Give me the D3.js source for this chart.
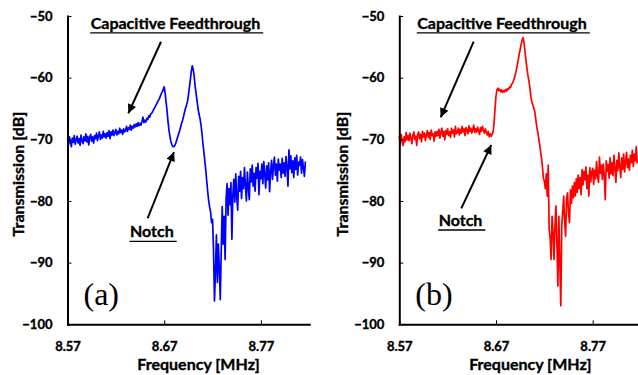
<!DOCTYPE html>
<html>
<head>
<meta charset="utf-8">
<script src="https://cdn.jsdelivr.net/npm/d3@7"></script>
<style>
  body { margin: 0; background: #fff; }
  svg text { font-family: Lato, "Open Sans", sans-serif; font-weight: bold; fill: #000; }
  svg text.heavy { stroke: #000; stroke-width: 0.35px; }
</style>
</head>
<body>
<div id="chart"></div>
<script>
const freqMHz = [
  8.570, 8.571, 8.572, 8.573, 8.574, 8.575, 8.576, 8.577, 8.578, 8.579,
  8.580, 8.581, 8.582, 8.583, 8.584, 8.585, 8.586, 8.587, 8.588, 8.589,
  8.590, 8.591, 8.592, 8.593, 8.594, 8.595, 8.596, 8.597, 8.598, 8.599,
  8.600, 8.601, 8.602, 8.603, 8.604, 8.605, 8.606, 8.607, 8.608, 8.609,
  8.610, 8.611, 8.612, 8.613, 8.614, 8.615, 8.616, 8.617, 8.618, 8.619,
  8.620, 8.621, 8.622, 8.623, 8.624, 8.625, 8.626, 8.627, 8.628, 8.629,
  8.630, 8.631, 8.632, 8.633, 8.634, 8.635, 8.636, 8.637, 8.638, 8.639,
  8.640, 8.641, 8.642, 8.643, 8.644, 8.645, 8.646, 8.647, 8.648, 8.649,
  8.650, 8.651, 8.652, 8.653, 8.654, 8.655, 8.656, 8.657, 8.658, 8.659,
  8.660, 8.661, 8.662, 8.663, 8.664, 8.665, 8.666, 8.667, 8.668, 8.669,
  8.670, 8.671, 8.672, 8.673, 8.674, 8.675, 8.676, 8.677, 8.678, 8.679,
  8.680, 8.681, 8.682, 8.683, 8.684, 8.685, 8.686, 8.687, 8.688, 8.689,
  8.690, 8.691, 8.692, 8.693, 8.694, 8.695, 8.696, 8.697, 8.698, 8.699,
  8.700, 8.701, 8.702, 8.703, 8.704, 8.705, 8.706, 8.707, 8.708, 8.709,
  8.710, 8.711, 8.712, 8.713, 8.714, 8.715, 8.716, 8.717, 8.718, 8.719,
  8.720, 8.721, 8.722, 8.723, 8.724, 8.725, 8.726, 8.727, 8.728, 8.729,
  8.730, 8.731, 8.732, 8.733, 8.734, 8.735, 8.736, 8.737, 8.738, 8.739,
  8.740, 8.741, 8.742, 8.743, 8.744, 8.745, 8.746, 8.747, 8.748, 8.749,
  8.750, 8.751, 8.752, 8.753, 8.754, 8.755, 8.756, 8.757, 8.758, 8.759,
  8.760, 8.761, 8.762, 8.763, 8.764, 8.765, 8.766, 8.767, 8.768, 8.769,
  8.770, 8.771, 8.772, 8.773, 8.774, 8.775, 8.776, 8.777, 8.778, 8.779,
  8.780, 8.781, 8.782, 8.783, 8.784, 8.785, 8.786, 8.787, 8.788, 8.789,
  8.790, 8.791, 8.792, 8.793, 8.794, 8.795, 8.796, 8.797, 8.798, 8.799,
  8.800, 8.801, 8.802, 8.803, 8.804, 8.805, 8.806, 8.807, 8.808, 8.809,
  8.810, 8.811, 8.812, 8.813, 8.814, 8.815, 8.816
];

// panel (a), blue trace [dB]
const sweepA = [
  -70.0, -70.9, -69.6, -70.4, -71.2, -69.8, -70.5, -69.4, -70.8, -70.1,
  -69.5, -70.6, -69.9, -71.0, -69.3, -70.2, -70.7, -69.6, -70.3, -69.1,
  -70.4, -69.5, -70.9, -69.7, -69.2, -70.3, -69.6, -70.6, -69.4, -69.9,
  -69.0, -70.2, -69.4, -68.8, -70.0, -69.3, -69.8, -68.7, -69.6, -69.1,
  -69.8, -68.9, -69.5, -68.6, -69.9, -68.8, -69.3, -68.5, -69.4, -68.9,
  -68.4, -69.3, -68.7, -69.1, -68.2, -68.9, -68.5, -69.2, -68.3, -68.8,
  -68.6, -67.9, -68.7, -68.1, -68.4, -67.7, -68.5, -67.9, -68.2, -67.6,
  -68.0, -67.5, -67.9, -67.3, -67.8, -67.4, -67.7, -67.1, -66.4, -67.3,
  -66.9, -67.2, -66.6, -66.8, -66.2, -66.4, -65.9, -65.8, -65.5, -65.2,
  -64.9, -64.6, -64.3, -64.0, -63.7, -63.4, -63.0, -62.6, -62.3, -61.9,
  -61.5, -62.6, -64.0, -65.5, -67.2, -68.6, -69.6, -70.4, -70.9, -71.2,
  -71.2, -71.0, -70.6, -70.1, -69.6, -69.1, -68.6, -68.0, -67.4, -66.9,
  -66.3, -65.6, -65.0, -64.5, -63.9, -62.9, -61.6, -60.4, -59.0, -58.1,
  -58.6, -59.8, -61.4, -62.6, -63.8, -65.0, -65.9, -66.6, -67.6, -68.9,
  -70.6, -72.0, -73.5, -75.0, -76.8, -78.5, -80.0, -81.0, -81.8, -83.5,
  -83.0, -88.0, -96.2, -91.5, -85.5, -93.2, -87.0, -91.0, -96.0, -88.0,
  -80.9, -87.0, -82.5, -89.5, -79.8, -77.2, -82.3, -78.0, -80.6, -77.0,
  -86.2, -79.0, -76.5, -80.2, -75.6, -79.4, -81.5, -76.0, -78.4, -75.2,
  -79.6, -76.2, -78.0, -74.6, -77.5, -80.0, -75.3, -77.8, -79.8, -74.8,
  -76.9, -74.2, -77.6, -75.5, -78.4, -74.6, -76.3, -73.9, -79.0, -75.2,
  -76.4, -74.0, -77.2, -73.6, -75.8, -77.9, -74.3, -76.6, -73.8, -78.5,
  -75.3, -73.4, -76.5, -74.2, -72.9, -75.8, -74.0, -76.8, -73.2, -75.0,
  -74.0, -76.2, -73.1, -75.5, -73.8, -76.0, -72.8, -74.6, -77.6, -71.7,
  -74.8, -72.7, -75.4, -73.5, -76.2, -73.0, -74.9, -72.6, -75.8, -73.7,
  -74.2, -72.9, -75.5, -73.3, -74.6, -76.0, -73.6
];

// panel (b), red trace [dB]
const sweepB = [
  -69.5, -70.8, -69.2, -70.3, -71.0, -69.6, -70.4, -68.9, -70.1, -69.4,
  -70.2, -69.0, -69.8, -70.7, -69.3, -68.8, -70.0, -69.5, -71.0, -69.2,
  -68.8, -69.9, -69.2, -70.4, -68.7, -69.6, -69.0, -70.2, -69.3, -68.6,
  -69.7, -68.9, -70.0, -68.5, -69.4, -69.1, -70.3, -68.8, -69.5, -68.7,
  -69.4, -68.4, -69.8, -68.9, -68.2, -69.5, -68.7, -70.1, -68.6, -69.2,
  -68.3, -69.4, -68.8, -69.7, -68.2, -69.0, -68.5, -69.6, -67.9, -69.1,
  -68.9, -68.2, -69.3, -68.4, -69.0, -67.9, -68.8, -68.3, -69.4, -68.1,
  -68.5, -69.1, -67.8, -68.7, -68.2, -69.0, -68.4, -67.7, -68.9, -68.3,
  -68.8, -68.0, -68.6, -69.2, -68.1, -68.7, -67.9, -68.5, -69.0, -68.3,
  -68.9, -69.3, -68.7, -69.6, -69.1, -69.5, -69.2, -68.8, -67.3, -65.0,
  -63.0, -62.0, -61.7, -62.1, -61.9, -62.3, -62.0, -62.4, -62.1, -62.3,
  -61.9, -62.2, -61.8, -61.9, -61.5, -61.6, -61.1, -60.9, -60.5, -60.1,
  -59.5, -58.8, -58.0, -57.1, -56.2, -55.4, -54.6, -53.9, -53.5, -54.4,
  -55.8, -57.2, -58.5, -59.6, -60.5, -61.6, -63.0, -63.9, -64.4, -64.9,
  -65.4, -66.6, -67.8, -68.7, -69.6, -70.6, -71.8, -73.0, -74.4, -76.3,
  -76.8, -78.0, -75.6, -79.2, -74.2, -84.6, -86.0, -89.5, -82.5, -85.0,
  -89.5, -84.0, -80.8, -87.0, -93.8, -82.5, -90.0, -97.0, -84.0, -81.8,
  -79.2, -83.5, -85.7, -79.6, -78.7, -82.0, -83.5, -78.2, -80.4, -77.6,
  -79.5, -77.0, -79.2, -76.4, -78.6, -75.8, -78.0, -76.2, -79.0, -74.9,
  -77.4, -75.2, -76.6, -74.5, -78.0, -75.8, -79.2, -74.6, -76.9, -75.3,
  -74.7, -77.3, -75.0, -76.4, -73.6, -76.0, -77.0, -72.9, -75.5, -74.2,
  -76.5, -74.0, -75.8, -79.8, -73.5, -75.2, -74.1, -76.3, -73.0, -75.6,
  -73.8, -75.9, -72.6, -74.8, -77.0, -73.4, -75.1, -72.2, -74.4, -76.2,
  -73.0, -74.9, -72.4, -75.3, -73.6, -72.1, -74.6, -73.2, -75.0, -72.6,
  -73.8, -71.8, -74.4, -72.4, -73.5, -71.2, -73.9
];

const xTicks = [8.57, 8.67, 8.77];
const yTicks = [-100, -90, -80, -70, -60, -50];
const xDomain = [8.57, 8.82];
const yDomain = [-100, -50];

// --- Layout ---
const W = 638, H = 375;
const plotTop = 16, plotBottom = 324.3, plotWidth = 241.75;

// annotation anchors in data units [MHz, dB]
const panels = [
  {
    name: "(a)", x0: 67.5, yTitleX: 17.5, values: sweepA, color: "#0000ff",
    feedText: [8.594, -52.1], feedArrow: [[8.6667, -54.17], [8.6329, -65.78]],
    notchText: [8.6346, -85.9], notchArrow: [[8.6529, -82.8], [8.6801, -72.06]]
  },
  {
    name: "(b)", x0: 399.3, yTitleX: 342, values: sweepB, color: "#ff0000",
    feedText: [8.5886, -52.1], feedArrow: [[8.6469, -54.17], [8.6128, -66.43]],
    notchText: [8.6107, -84.06], notchArrow: [[8.6341, -81.19], [8.6651, -70.92]]
  }
];

const svg = d3.select("#chart").append("svg")
  .attr("width", W)
  .attr("height", H);

svg.append("defs").append("marker")
  .attr("id", "head")
  .attr("markerUnits", "userSpaceOnUse")
  .attr("viewBox", "0 0 10 10")
  .attr("refX", 10).attr("refY", 5)
  .attr("markerWidth", 11).attr("markerHeight", 9)
  .attr("orient", "auto")
  .append("path")
  .attr("d", "M0,0 L10,5 L0,10 Z")
  .attr("fill", "#000");

const y = d3.scaleLinear().domain(yDomain).range([plotBottom, plotTop]);

panels.forEach(p => {
  const x = d3.scaleLinear().domain(xDomain).range([p.x0, p.x0 + plotWidth]);

  // --- trace ---
  const line = d3.line()
    .x((d, i) => x(freqMHz[i]))
    .y(d => y(d));

  svg.append("path")
    .datum(p.values)
    .attr("fill", "none")
    .attr("stroke", p.color)
    .attr("stroke-width", 1.7)
    .attr("stroke-linejoin", "round")
    .attr("d", line);

  // --- axes ---
  const yAxis = svg.append("g")
    .attr("transform", `translate(${p.x0},0)`)
    .call(d3.axisLeft(y).tickValues(yTicks).tickSizeInner(-4).tickSizeOuter(0).tickPadding(15));

  const xAxis = svg.append("g")
    .attr("transform", `translate(0,${plotBottom})`)
    .call(d3.axisBottom(x).tickValues(xTicks).tickFormat(d3.format(".2f"))
      .tickSizeInner(-4).tickSizeOuter(0).tickPadding(17));

  [yAxis, xAxis].forEach(g => {
    g.select(".domain").attr("stroke", "#000").attr("stroke-width", 2).attr("stroke-linecap", "square");
    g.selectAll(".tick line").attr("stroke", "#000").attr("stroke-width", 1);
    g.selectAll(".tick text")
      .attr("class", "heavy")
      .style("font-family", "Lato, sans-serif")
      .style("font-weight", "bold")
      .style("font-size", "13px");
  });

  // --- axis titles ---
  svg.append("text")
    .attr("class", "heavy")
    .attr("x", p.x0 + 131)
    .attr("y", 370)
    .attr("text-anchor", "middle")
    .style("font-size", "16px")
    .text("Frequency [MHz]");

  svg.append("text")
    .attr("class", "heavy")
    .attr("transform", `translate(${p.yTitleX + 6},${(plotTop + plotBottom) / 2 + 4}) rotate(-90)`)
    .attr("text-anchor", "middle")
    .style("font-size", "16px")
    .text("Transmission [dB]");

  // --- panel letter ---
  svg.append("text")
    .attr("x", p.x0 + 16)
    .attr("y", 305)
    .style("font-family", "'Liberation Serif', 'DejaVu Serif', serif")
    .style("font-weight", "normal")
    .style("font-size", "32px")
    .text(p.name);

  // --- annotations ---
  const addLabel = (pos, txt, size) => {
    const t = svg.append("text")
      .attr("class", "heavy")
      .attr("x", x(pos[0]))
      .attr("y", y(pos[1]))
      .style("font-size", size)
      .text(txt);
    const len = t.node().getComputedTextLength();
    svg.append("line")
      .attr("x1", x(pos[0]) - 0.5).attr("x2", x(pos[0]) + len + 3)
      .attr("y1", y(pos[1]) + 4).attr("y2", y(pos[1]) + 4)
      .attr("stroke", "#000").attr("stroke-width", 1.3);
  };

  const addArrow = (pts) => {
    svg.append("line")
      .attr("x1", x(pts[0][0])).attr("y1", y(pts[0][1]))
      .attr("x2", x(pts[1][0])).attr("y2", y(pts[1][1]))
      .attr("stroke", "#000")
      .attr("stroke-width", 2)
      .attr("marker-end", "url(#head)");
  };

  addLabel(p.feedText, "Capacitive Feedthrough", "16px");
  addLabel(p.notchText, "Notch", "16px");
  addArrow(p.feedArrow);
  addArrow(p.notchArrow);
});
</script>
</body>
</html>
